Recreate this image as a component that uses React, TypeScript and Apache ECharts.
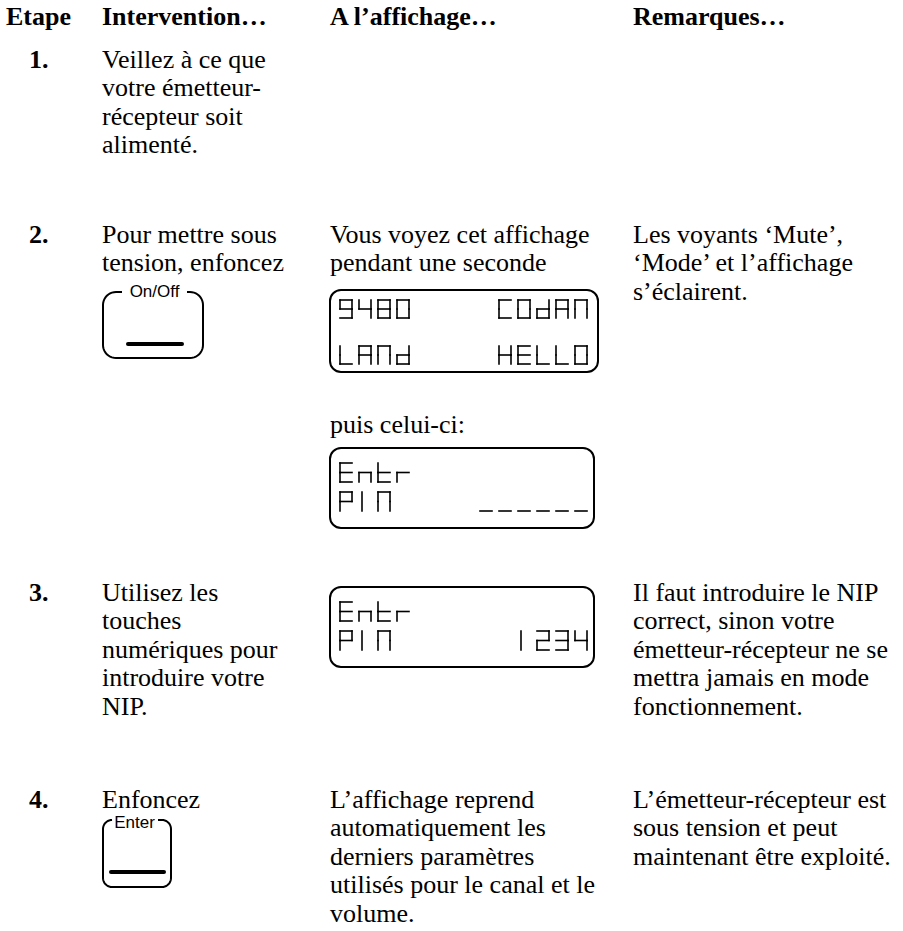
import React, { useEffect, useRef } from "react";
import * as echarts from "echarts";

// ---------- content ----------
const headers = ["Etape", "Intervention…", "A l’affichage…", "Remarques…"];
const stepNumbers = ["1.", "2.", "3.", "4."];
const step1Action = ["Veillez à ce que", "votre émetteur-", "récepteur soit", "alimenté."];
const step2Action = ["Pour mettre sous", "tension, enfoncez"];
const step2Display = ["Vous voyez cet affichage", "pendant une seconde"];
const step2DisplayThen = ["puis celui-ci:"];
const step2Remarks = ["Les voyants ‘Mute’,", "‘Mode’ et l’affichage", "s’éclairent."];
const step3Action = ["Utilisez les", "touches", "numériques pour", "introduire votre", "NIP."];
const step3Remarks = [
  "Il faut introduire le NIP",
  "correct, sinon votre",
  "émetteur-récepteur ne se",
  "mettra jamais en mode",
  "fonctionnement.",
];
const step4Action = ["Enfoncez"];
const step4Display = [
  "L’affichage reprend",
  "automatiquement les",
  "derniers paramètres",
  "utilisés pour le canal et le",
  "volume.",
];
const step4Remarks = ["L’émetteur-récepteur est", "sous tension et peut", "maintenant être exploité."];
const buttonLabels = ["On/Off", "Enter"];

// LCD rows: [left-aligned part, right-aligned part]
const lcdWelcome = [["9480", "COdAN"], ["LANd", "HELLO"]];
const lcdPinEmpty = [["Entr", ""], ["PIN", "______"]];
const lcdPinTyped = [["Entr", ""], ["PIN", "1234"]];

// seven-segment glyph table (a top, b upper-right, c lower-right, d bottom, e lower-left, f upper-left, g middle)
const SEGMENTS: Record<string, string> = {
  "0": "abcdef", "1": "I", "2": "abdeg", "3": "abcdg", "4": "bcfg", "8": "abcdefg", "9": "abcdfg",
  A: "abcefg", C: "adef", d: "bcdeg", E: "adefg", H: "bcefg", L: "def", N: "abcef", O: "abcdef",
  P: "abefg", I: "I", n: "ceg", t: "defg", r: "eg", _: "d",
};

// ---------- layout ----------
const FS = 26;
const SERIF = "'Liberation Serif', 'Times New Roman', serif";
const SANS = "'Liberation Sans', Arial, sans-serif";
const LH = 28.5;
const COL = { num: 29, action: 102, display: 330, remarks: 633 };

function textEl(s: string, x: number, baseline: number, opts: any = {}) {
  const fs = opts.fontSize ?? FS;
  return {
    type: "text",
    x,
    y: baseline - 0.3375 * fs,
    silent: true,
    style: {
      text: s,
      fontFamily: opts.fontFamily ?? SERIF,
      fontSize: fs,
      fontWeight: opts.fontWeight ?? "normal",
      fill: "#000",
      align: opts.align ?? "left",
      verticalAlign: "middle",
    },
  };
}

function lines(arr: string[], x: number, baseline: number, opts: any = {}) {
  return arr.map((s, i) => textEl(s, x, baseline + i * LH, opts));
}

function arcPts(cx: number, cy: number, r: number, a0: number, a1: number) {
  const pts: number[][] = [];
  const n = 10;
  for (let i = 0; i <= n; i++) {
    const a = ((a0 + ((a1 - a0) * i) / n) * Math.PI) / 180;
    pts.push([cx + r * Math.cos(a), cy + r * Math.sin(a)]);
  }
  return pts;
}

function button(x: number, y: number, w: number, h: number, r: number, label: string, gapL: number, gapR: number, barX1: number, barX2: number, barY: number, labelDy: number) {
  const pts: number[][] = [[gapL, y]];
  pts.push(...arcPts(x + r, y + r, r, 270, 180));
  pts.push(...arcPts(x + r, y + h - r, r, 180, 90));
  pts.push(...arcPts(x + w - r, y + h - r, r, 90, 0));
  pts.push(...arcPts(x + w - r, y + r, r, 0, -90));
  pts.push([gapR, y]);
  return [
    { type: "polyline", silent: true, shape: { points: pts }, style: { stroke: "#000", lineWidth: 2, fill: null } },
    {
      type: "text",
      x: (gapL + gapR) / 2,
      y: y + labelDy,
      silent: true,
      style: { text: label, fontFamily: SANS, fontSize: 17, fill: "#000", align: "center", verticalAlign: "middle" },
    },
    {
      type: "line",
      silent: true,
      shape: { x1: barX1, y1: barY, x2: barX2, y2: barY },
      style: { stroke: "#000", lineWidth: 4, lineCap: "round" },
    },
  ];
}

const GW = 12;
const PITCH = 19;

function glyph(ch: string, x: number, y: number, gh: number) {
  const segs = SEGMENTS[ch];
  if (!segs) return [];
  const w = GW;
  const m = gh / 2;
  const map: Record<string, number[]> = {
    a: [0, 0, w, 0],
    b: [w, 0, w, m],
    c: [w, m, w, gh],
    d: [0, gh, w, gh],
    e: [0, m, 0, gh],
    f: [0, 0, 0, m],
    g: [0, m, w, m],
    I: [3, 0, 3, gh],
  };
  return segs.split("").map((s) => {
    const [x1, y1, x2, y2] = map[s];
    return {
      type: "line",
      silent: true,
      shape: { x1: x + x1, y1: y + y1, x2: x + x2, y2: y + y2 },
      style: { stroke: "#000", lineWidth: 1.6, lineCap: "square" },
    };
  });
}

function lcd(x: number, y: number, w: number, h: number, rows: string[][], rowTops: number[], gh: number) {
  const els: any[] = [
    {
      type: "rect",
      silent: true,
      shape: { x, y, width: w, height: h, r: 11 },
      style: { stroke: "#000", lineWidth: 2, fill: null },
    },
  ];
  const leftX = x + 10;
  const rightEnd = 587;
  rows.forEach((row, ri) => {
    const top = y + rowTops[ri];
    const [left, right] = row;
    left.split("").forEach((ch, i) => els.push(...glyph(ch, leftX + i * PITCH, top, gh)));
    const start = rightEnd - GW - (right.length - 1) * PITCH;
    right.split("").forEach((ch, i) => els.push(...glyph(ch, start + i * PITCH, top, gh)));
  });
  return els;
}

function buildElements() {
  const els: any[] = [];
  // header
  const hb = 25;
  els.push(textEl(headers[0], 6, hb, { fontWeight: "bold" }));
  els.push(textEl(headers[1], COL.action, hb, { fontWeight: "bold" }));
  els.push(textEl(headers[2], COL.display, hb, { fontWeight: "bold" }));
  els.push(textEl(headers[3], COL.remarks, hb, { fontWeight: "bold" }));

  // step 1
  const s1 = 68;
  els.push(textEl(stepNumbers[0], COL.num, s1, { fontWeight: "bold" }));
  els.push(...lines(step1Action, COL.action, s1));

  // step 2
  const s2 = 243;
  els.push(textEl(stepNumbers[1], COL.num, s2, { fontWeight: "bold" }));
  els.push(...lines(step2Action, COL.action, s2));
  els.push(...lines(step2Display, COL.display, s2));
  els.push(...lines(step2Remarks, COL.remarks, s2));
  els.push(...button(103, 292, 100, 66, 13, buttonLabels[0], 122, 187, 128, 182, 344, -1));
  els.push(...lcd(330, 290, 268, 82, lcdWelcome, [10, 56], 18));
  els.push(...lines(step2DisplayThen, COL.display, 433));
  els.push(...lcd(330, 448, 264, 80, lcdPinEmpty, [15, 44], 19));

  // step 3
  const s3 = 601;
  els.push(textEl(stepNumbers[2], COL.num, s3, { fontWeight: "bold" }));
  els.push(...lines(step3Action, COL.action, s3));
  els.push(...lines(step3Remarks, COL.remarks, s3));
  els.push(...lcd(330, 587, 264, 80, lcdPinTyped, [15, 44], 19));

  // step 4
  const s4 = 808;
  els.push(textEl(stepNumbers[3], COL.num, s4, { fontWeight: "bold" }));
  els.push(...lines(step4Action, COL.action, s4));
  els.push(...lines(step4Display, COL.display, s4));
  els.push(...lines(step4Remarks, COL.remarks, s4));
  els.push(...button(103, 820, 68, 67, 9, buttonLabels[1], 111, 158, 111, 164, 872, 2));
  return els;
}

export default function App() {
  const ref = useRef<HTMLDivElement>(null);
  useEffect(() => {
    if (!ref.current) return;
    const chart = echarts.init(ref.current, undefined, { renderer: "svg" });
    chart.setOption({
      animation: false,
      backgroundColor: "#ffffff",
      graphic: { elements: buildElements() },
    });
    return () => chart.dispose();
  }, []);
  return (
    <div
      ref={ref}
      style={{ position: "absolute", left: 0, top: 0, width: 903, height: 931, background: "#fff" }}
    />
  );
}
